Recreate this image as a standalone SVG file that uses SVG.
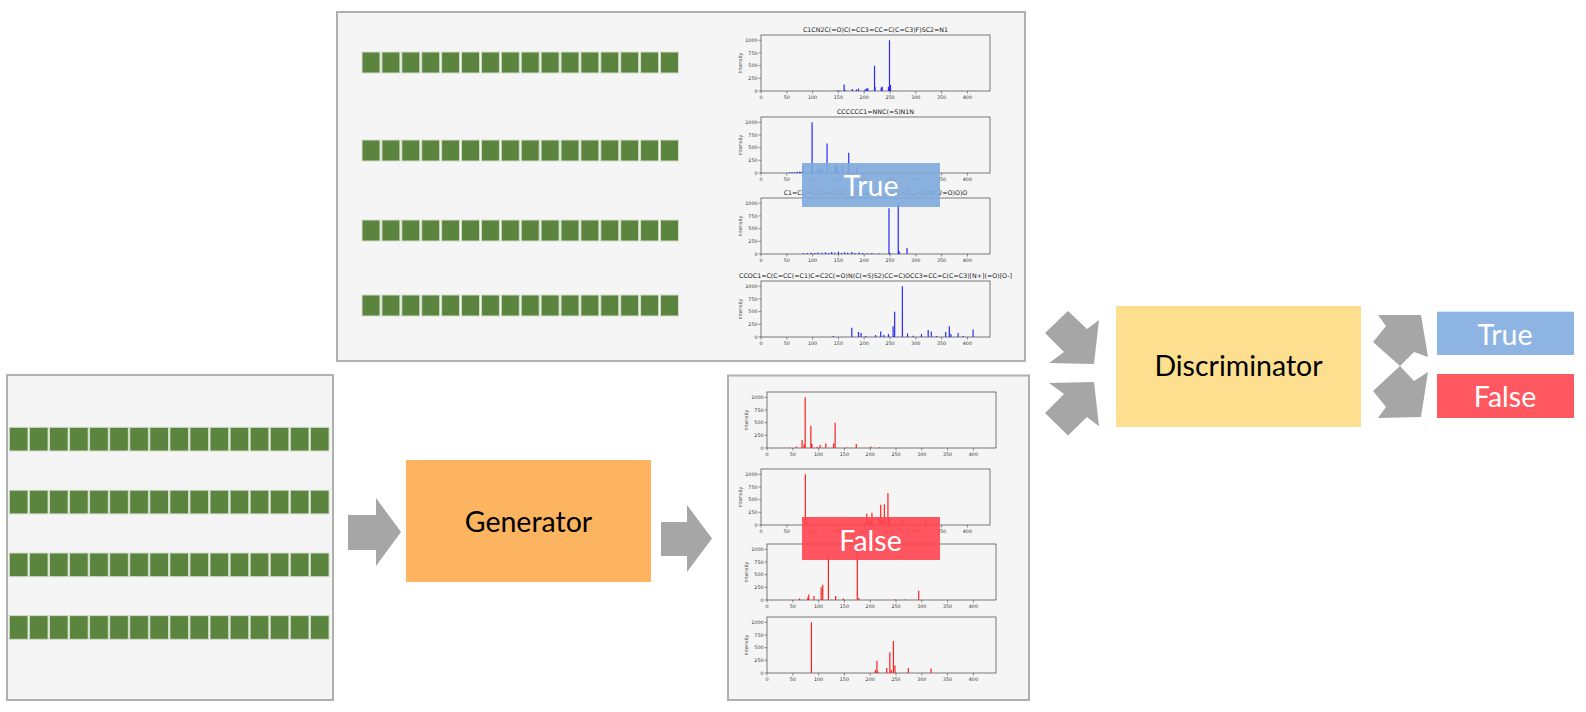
<svg xmlns="http://www.w3.org/2000/svg" width="1586" height="712" viewBox="0 0 1586 712">
<style>
.panel{fill:#f5f5f5;stroke:#b0b0b0;stroke-width:2}
.sq{fill:#5b853f;stroke:#d3ddca;stroke-width:1}
.ax{fill:none;stroke:#444;stroke-width:0.7}
.tk{fill:none;stroke:#444;stroke-width:0.6}
.tl{font-family:"DejaVu Sans",sans-serif;font-size:4.8px;fill:#333}
.ttl{font-family:"DejaVu Sans",sans-serif;font-size:6.3px;fill:#222;text-anchor:middle}
.bb{fill:none;stroke:#2a2aff;stroke-width:1.2}
.rb{fill:none;stroke:#ff2020;stroke-width:1.2}
.arrow{fill:#a6a6a6}
.big{font-family:Lato,"Liberation Sans",sans-serif;font-size:28.5px;text-anchor:middle}
.wt{fill:#ffffff}
.bk{fill:#000000}
</style>
<defs>
<g id="rowT">
<rect class="sq" x="0" y="0" width="18" height="21"/><rect class="sq" x="19.9" y="0" width="18" height="21"/><rect class="sq" x="39.8" y="0" width="18" height="21"/><rect class="sq" x="59.7" y="0" width="18" height="21"/><rect class="sq" x="79.6" y="0" width="18" height="21"/><rect class="sq" x="99.5" y="0" width="18" height="21"/><rect class="sq" x="119.4" y="0" width="18" height="21"/><rect class="sq" x="139.3" y="0" width="18" height="21"/><rect class="sq" x="159.2" y="0" width="18" height="21"/><rect class="sq" x="179.1" y="0" width="18" height="21"/><rect class="sq" x="199" y="0" width="18" height="21"/><rect class="sq" x="218.9" y="0" width="18" height="21"/><rect class="sq" x="238.8" y="0" width="18" height="21"/><rect class="sq" x="258.7" y="0" width="18" height="21"/><rect class="sq" x="278.6" y="0" width="18" height="21"/><rect class="sq" x="298.5" y="0" width="18" height="21"/>
</g>
<g id="rowB">
<rect class="sq" x="0" y="0" width="18.7" height="23.7"/><rect class="sq" x="20.07" y="0" width="18.7" height="23.7"/><rect class="sq" x="40.14" y="0" width="18.7" height="23.7"/><rect class="sq" x="60.21" y="0" width="18.7" height="23.7"/><rect class="sq" x="80.28" y="0" width="18.7" height="23.7"/><rect class="sq" x="100.35" y="0" width="18.7" height="23.7"/><rect class="sq" x="120.42" y="0" width="18.7" height="23.7"/><rect class="sq" x="140.49" y="0" width="18.7" height="23.7"/><rect class="sq" x="160.56" y="0" width="18.7" height="23.7"/><rect class="sq" x="180.63" y="0" width="18.7" height="23.7"/><rect class="sq" x="200.7" y="0" width="18.7" height="23.7"/><rect class="sq" x="220.77" y="0" width="18.7" height="23.7"/><rect class="sq" x="240.84" y="0" width="18.7" height="23.7"/><rect class="sq" x="260.91" y="0" width="18.7" height="23.7"/><rect class="sq" x="280.98" y="0" width="18.7" height="23.7"/><rect class="sq" x="301.05" y="0" width="18.7" height="23.7"/>
</g>
<g id="axT">
<rect class="ax" x="0" y="-56" width="229" height="56"/>
<path class="tk" d="M0 0v2.5M25.8 0v2.5M51.6 0v2.5M77.4 0v2.5M103.2 0v2.5M129 0v2.5M154.8 0v2.5M180.6 0v2.5M206.4 0v2.5M0 0h-2.5M0 -12.675h-2.5M0 -25.35h-2.5M0 -38.025h-2.5M0 -50.7h-2.5"/>
<g class="tl" text-anchor="middle">
<text x="0" y="8">0</text><text x="25.8" y="8">50</text><text x="51.6" y="8">100</text><text x="77.4" y="8">150</text><text x="103.2" y="8">200</text><text x="129" y="8">250</text><text x="154.8" y="8">300</text><text x="180.6" y="8">350</text><text x="206.4" y="8">400</text>
</g>
<g class="tl" text-anchor="end">
<text x="-3.5" y="1.7">0</text><text x="-3.5" y="-11">250</text><text x="-3.5" y="-23.6">500</text><text x="-3.5" y="-36.3">750</text><text x="-3.5" y="-49">1000</text>
</g>
<text class="tl" text-anchor="middle" transform="translate(-19,-28) rotate(-90)">Intensity</text>
</g>
</defs>

<g id="real-panel">
<rect class="panel" x="337" y="12" width="688" height="349"/>
<use href="#rowT" x="362" y="52"/>
<use href="#rowT" x="362" y="140"/>
<use href="#rowT" x="362" y="220"/>
<use href="#rowT" x="362" y="295"/>
<text class="ttl" x="875.5" y="32.2">C1CN2C(=O)C(=CC3=CC=C(C=C3)F)SC2=N1</text>
<use href="#axT" transform="translate(761,91)"/>
<path class="bb" vector-effect="non-scaling-stroke" transform="translate(761,91) scale(0.516,-0.0507)" d="M147 0V10M152 0V8M161 0V130M163 0V20M177 0V40M185 0V30M189 0V50M202 0V35M205 0V50M207 0V55M220 0V500M221 0V80M233 0V70M235 0V85M247 0V80M249 0V1000M251 0V120"/>
<text class="ttl" x="875.5" y="114.3">CCCCCC1=NNC(=S)N1N</text>
<use href="#axT" transform="translate(761,173)"/>
<path class="bb" vector-effect="non-scaling-stroke" transform="translate(761,173) scale(0.516,-0.0507)" d="M55 0V15M60 0V20M65 0V15M70 0V25M75 0V30M78 0V20M82 0V140M84 0V30M97 0V60M99 0V1000M110 0V60M114 0V80M118 0V100M128 0V580M132 0V30M144 0V140M147 0V180M150 0V40M157 0V130M168 0V30M170 0V400M186 0V120"/>
<text class="ttl" x="875.5" y="195.3">C1=CC=C(C(=C1)C(=O)C2=CC3=CC=CC=C3NC2=O)O)O</text>
<use href="#axT" transform="translate(761,254)"/>
<path class="bb" vector-effect="non-scaling-stroke" transform="translate(761,254) scale(0.516,-0.0507)" d="M82 0V15M90 0V20M97 0V25M104 0V20M110 0V30M118 0V25M125 0V35M131 0V20M137 0V40M143 0V25M150 0V45M156 0V20M162 0V35M168 0V25M176 0V40M182 0V20M190 0V30M197 0V20M206 0V15M215 0V20M228 0V15M248 0V900M250 0V20M266 0V1000M268 0V50M283 0V120"/>
<text class="ttl" x="875.5" y="278.3">CCOC1=C(C=CC(=C1)C=C2C(=O)N(C(=S)S2)CC=C)OCC3=CC=C(C=C3)[N+](=O)[O-]</text>
<use href="#axT" transform="translate(761,337)"/>
<path class="bb" vector-effect="non-scaling-stroke" transform="translate(761,337) scale(0.516,-0.0507)" d="M140 0V20M176 0V180M189 0V100M194 0V80M203 0V20M222 0V40M232 0V110M238 0V40M247 0V60M256 0V210M259 0V500M274 0V1000M284 0V70M295 0V25M311 0V60M324 0V140M330 0V110M340 0V20M358 0V100M365 0V210M368 0V60M382 0V80M392 0V20M411 0V150"/>
<rect x="802" y="163" width="138" height="44" fill="#7fabdc" fill-opacity="0.9"/>
<text class="big wt" x="871" y="196">True</text>
</g>

<g id="input-panel">
<rect class="panel" x="7" y="375" width="326" height="325"/>
<use href="#rowB" x="9.3" y="427.3"/>
<use href="#rowB" x="9.3" y="490.2"/>
<use href="#rowB" x="9.3" y="553"/>
<use href="#rowB" x="9.3" y="615.6"/>
</g>

<g id="generator">
<rect x="406" y="460" width="245" height="122" fill="#fcb460"/>
<text class="big bk" x="528.5" y="531.5">Generator</text>
</g>

<g id="fake-panel">
<rect class="panel" x="728" y="375.5" width="301" height="324.5"/>
<use href="#axT" transform="translate(767,448)"/>
<path class="rb" vector-effect="non-scaling-stroke" transform="translate(767,448) scale(0.516,-0.0507)" d="M43 0V10M57 0V30M68 0V160M72 0V70M74 0V1000M85 0V440M87 0V80M97 0V20M103 0V60M114 0V90M129 0V90M132 0V500M154 0V15M173 0V80M201 0V30M218 0V15"/>
<use href="#axT" transform="translate(761,525)"/>
<path class="rb" vector-effect="non-scaling-stroke" transform="translate(761,525) scale(0.516,-0.0507)" d="M86 0V1000M88 0V60M200 0V60M205 0V220M210 0V100M213 0V60M215 0V240M228 0V150M232 0V400M235 0V100M239 0V410M241 0V60M246 0V630M248 0V150M274 0V100M319 0V100"/>
<use href="#axT" transform="translate(767,600)"/>
<path class="rb" vector-effect="non-scaling-stroke" transform="translate(767,600) scale(0.516,-0.0507)" d="M63 0V30M79 0V50M81 0V110M91 0V80M105 0V250M108 0V300M119 0V900M133 0V80M148 0V30M175 0V1000M178 0V40M248 0V15M267 0V10M294 0V180"/>
<use href="#axT" transform="translate(767,673)"/>
<path class="rb" vector-effect="non-scaling-stroke" transform="translate(767,673) scale(0.516,-0.0507)" d="M86 0V1000M210 0V60M213 0V240M215 0V30M232 0V100M238 0V410M241 0V60M245 0V630M248 0V150M274 0V100M318 0V90"/>
<rect x="802" y="517" width="138" height="43" fill="#ff4450" fill-opacity="0.9"/>
<text class="big wt" x="870.5" y="550.5">False</text>
</g>

<g id="discriminator">
<rect x="1116" y="306" width="245" height="121" fill="#fddf8f"/>
<text class="big bk" x="1238.5" y="375.5">Discriminator</text>
</g>

<g id="out-true">
<rect x="1437" y="311.7" width="137" height="43.3" fill="#8db4e2"/>
<text class="big wt" x="1505" y="345">True</text>
</g>

<g id="out-false">
<rect x="1437" y="374" width="137" height="44" fill="#ff5861"/>
<text class="big wt" x="1505" y="407">False</text>
</g>

<g id="connectors">
<polygon class="arrow" points="348,515 376,515 376,498 401,532 376,566 376,550 348,550"/>
<polygon class="arrow" points="661,522 687,522 687,505 712,538.5 687,572 687,556 661,556"/>
<polygon class="arrow" points="1045,333 1068,311 1087,329 1099,320 1094,364 1049,363 1064,352"/>
<polygon class="arrow" points="1045,413 1068,435.6 1087,417 1099,426.3 1094,382 1049,383 1064,394"/>
<polygon class="arrow" points="1378,315 1421,315 1428,357 1414,352 1400,366 1373,342 1386,326"/>
<polygon class="arrow" points="1378,418 1421,417 1428,372 1414,381 1400,366 1373,391 1386,407"/>
</g>
</svg>
